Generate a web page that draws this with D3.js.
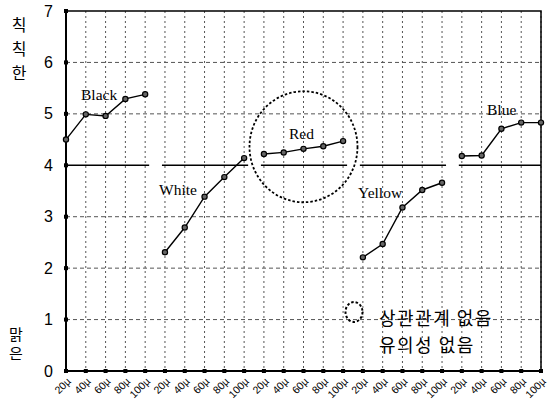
<!DOCTYPE html>
<html><head><meta charset="utf-8">
<script src="https://cdn.jsdelivr.net/npm/d3@7/dist/d3.min.js"></script>
<style>body{margin:0;background:#fff}svg{display:block}</style>
</head><body>
<script>
const groups = ["Black","White","Red","Yellow","Blue"];
const sizes = ["20µ","40µ","60µ","80µ","100µ"];
const black = [4.5,4.99,4.96,5.29,5.38];
const white = [2.31,2.79,3.39,3.77,4.14];
const red = [4.22,4.25,4.32,4.37,4.47];
const yellow = [2.21,2.47,3.18,3.52,3.66];
const blue = [4.18,4.19,4.71,4.83,4.83];
const yTicks = [0,1,2,3,4,5,6,7];
const gridY = [1,2,3,5,6];
const topLabel = ["칙","칙","한"];
const bottomLabel = ["맑","은"];
const legendLines = ["상관관계 없음","유의성 없음"];
const series = [black, white, red, yellow, blue];

const W=551,H=401, L=66, R=541, T=11, B=371;
const svg = d3.select("body").append("svg").attr("width",W).attr("height",H);
const cats = [];
groups.forEach((g,gi)=>sizes.forEach((s,si)=>cats.push(gi*5+si)));
const x = d3.scalePoint().domain(cats).range([L,R]).padding(0);
const y = d3.scaleLinear().domain([0,7]).range([B,T]);

// grid
svg.append("g").selectAll("line").data(cats).join("line")
  .attr("x1",d=>x(d)).attr("x2",d=>x(d)).attr("y1",T).attr("y2",B)
  .attr("stroke","#555").attr("stroke-width",1).attr("stroke-dasharray","2,3");
svg.append("g").selectAll("line").data(gridY).join("line")
  .attr("x1",L).attr("x2",R).attr("y1",d=>y(d)).attr("y2",d=>y(d))
  .attr("stroke","#555").attr("stroke-width",1).attr("stroke-dasharray","4,3");

// y=4 segments per group
groups.forEach((g,gi)=>{
  const x0 = Math.max(L, x(gi*5)-3), x1 = Math.min(R, x(gi*5+4)+4);
  svg.append("line").attr("x1",x0).attr("x2",x1).attr("y1",y(4)).attr("y2",y(4))
    .attr("stroke","#000").attr("stroke-width",1.4);
});

// frame
svg.append("rect").attr("x",L).attr("y",T).attr("width",R-L).attr("height",B-T)
  .attr("fill","none").attr("stroke","#000").attr("stroke-width",1.5);
svg.append("line").attr("x1",L).attr("x2",L).attr("y1",T).attr("y2",B).attr("stroke","#000").attr("stroke-width",2);
svg.append("line").attr("x1",L).attr("x2",R).attr("y1",B).attr("y2",B).attr("stroke","#000").attr("stroke-width",2);

// axes with square ticks
const yAxis = d3.axisLeft(y).tickValues(yTicks).tickSize(0).tickPadding(13).tickFormat(d3.format("d"));
const ya = svg.append("g").attr("transform",`translate(${L},0)`).call(yAxis);
ya.select(".domain").remove();
ya.selectAll("text").attr("font-family","Liberation Sans, Arial, sans-serif").attr("font-size",16).attr("fill","#000");
svg.append("g").selectAll("rect").data(yTicks).join("rect")
  .attr("x",L-2).attr("y",d=>y(d)-2).attr("width",4).attr("height",4).attr("fill","#000");

const xAxis = d3.axisBottom(x).tickSize(0).tickFormat(d=>sizes[d%5]);
const xa = svg.append("g").attr("transform",`translate(0,${B})`).call(xAxis);
xa.select(".domain").remove();
xa.selectAll("text").attr("font-family","Liberation Sans, Arial, sans-serif").attr("font-size",10.5).attr("fill","#000")
  .attr("text-anchor","end").attr("dy",0).attr("y",0)
  .attr("transform","translate(5,11) rotate(-45)");
svg.append("g").selectAll("rect").data(cats).join("rect")
  .attr("x",d=>x(d)-2).attr("y",B-2).attr("width",4).attr("height",4).attr("fill","#000");

// series
const line = d3.line().x(d=>x(d[0])).y(d=>y(d[1]));
series.forEach((vals,gi)=>{
  const pts = vals.map((v,i)=>[gi*5+i, v]);
  svg.append("path").attr("d",line(pts)).attr("fill","none").attr("stroke","#000").attr("stroke-width",1.4);
  svg.append("g").selectAll("circle").data(pts).join("circle")
    .attr("cx",d=>x(d[0])).attr("cy",d=>y(d[1])).attr("r",2.6)
    .attr("fill","#666").attr("stroke","#000").attr("stroke-width",1.2);
});

// series labels
const labelPos = [[81,100],[159,195],[289,139],[358,198],[487,115]];
groups.forEach((g,gi)=>{
  svg.append("text").attr("x",labelPos[gi][0]).attr("y",labelPos[gi][1]).text(g)
    .attr("font-family","Liberation Serif, Times New Roman, serif").attr("font-size",15.5).attr("fill","#000");
});

// dashed circle around Red
svg.append("ellipse").attr("cx",x(12)).attr("cy",y(4.36)).attr("rx",54).attr("ry",55.5)
  .attr("fill","none").attr("stroke","#000").attr("stroke-width",1.8).attr("stroke-dasharray","2.5,2");

// y titles
topLabel.forEach((c,i)=>svg.append("text").attr("x",19).attr("y",31+i*24).attr("text-anchor","middle")
  .attr("font-family","Noto Sans CJK KR").attr("font-size",16).attr("fill","#000").text(c));
bottomLabel.forEach((c,i)=>svg.append("text").attr("x",16).attr("y",340+i*19).attr("text-anchor","middle")
  .attr("font-family","Noto Sans CJK KR").attr("font-size",15).attr("fill","#000").text(c));

// legend
svg.append("ellipse").attr("cx",354).attr("cy",312).attr("rx",8.5).attr("ry",10)
  .attr("fill","none").attr("stroke","#000").attr("stroke-width",2).attr("stroke-dasharray","2.5,2");
legendLines.forEach((t,i)=>svg.append("text").attr("x",379).attr("y",325+i*27)
  .attr("font-family","Noto Sans CJK KR").attr("font-size",18).attr("letter-spacing",1.5).attr("fill","#000").text(t));
</script>
</body></html>
